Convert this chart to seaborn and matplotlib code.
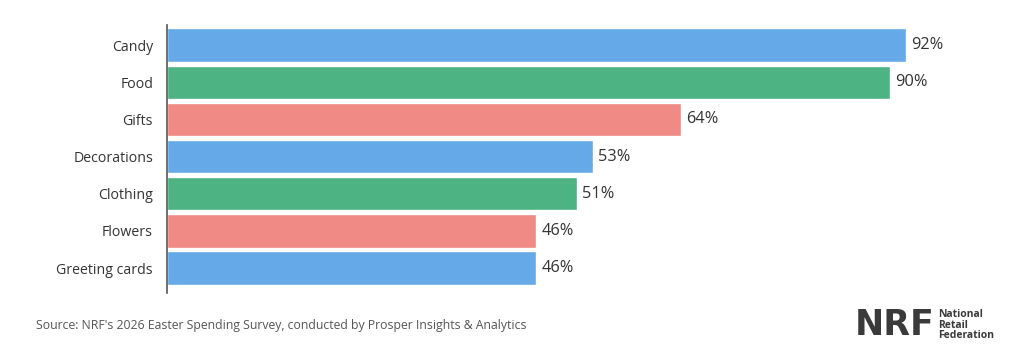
import matplotlib
matplotlib.use("Agg")
import matplotlib.pyplot as plt
import pandas as pd
import seaborn as sns

categories = ["Candy", "Food", "Gifts", "Decorations", "Clothing", "Flowers", "Greeting cards"]
shares = [92, 90, 64, 53, 51, 46, 46]
bar_colors = ["#66A9E8", "#4DB383", "#F08A85", "#66A9E8", "#4DB383", "#F08A85", "#66A9E8"]
source_text = "Source: NRF's 2026 Easter Spending Survey, conducted by Prosper Insights & Analytics"

sns.set_style("white")
plt.rcParams["font.family"] = ["Open Sans", "DejaVu Sans"]
TEXT = "#333333"

df = pd.DataFrame({"category": categories, "share": shares})

fig = plt.figure(figsize=(10.25, 3.52), dpi=100)
ax = fig.add_axes([167 / 1025, 1 - 293 / 352, 803 / 1025, 268 / 352])

sns.barplot(data=df, x="share", y="category", hue="category",
            palette=bar_colors, order=categories, hue_order=categories,
            width=0.9, saturation=1, legend=False, ax=ax)

for cont in ax.containers:
    ax.bar_label(cont, fmt="%d%%", padding=4, fontsize=11.8, color=TEXT)

ax.set_xlim(0, 100)
ax.set_ylim(6.67, -0.54)
ax.set_xlabel("")
ax.set_ylabel("")
ax.set_xticks([])
ax.tick_params(axis="y", length=0, pad=10, labelsize=10.2, labelcolor=TEXT)
for s in ["top", "right", "bottom"]:
    ax.spines[s].set_visible(False)
ax.spines["left"].set_color("#555555")
ax.spines["left"].set_linewidth(1.2)

fig.text(36 / 1025, 1 - 325 / 352, source_text, fontsize=8.85, color="#555555",
         va="center", ha="left")

# NRF logo as text
fig.text(855 / 1025, 1 - 325 / 352, "NRF", fontsize=25, fontweight="heavy",
         color="#3a3a3a", va="center", ha="left", family=["DejaVu Sans"])
fig.text(938 / 1025, 1 - 325 / 352, "National\nRetail\nFederation", fontsize=7.5,
         fontweight="bold", color="#3a3a3a", va="center", ha="left", linespacing=0.95)

fig.savefig("out.png", dpi=100, facecolor="white")
